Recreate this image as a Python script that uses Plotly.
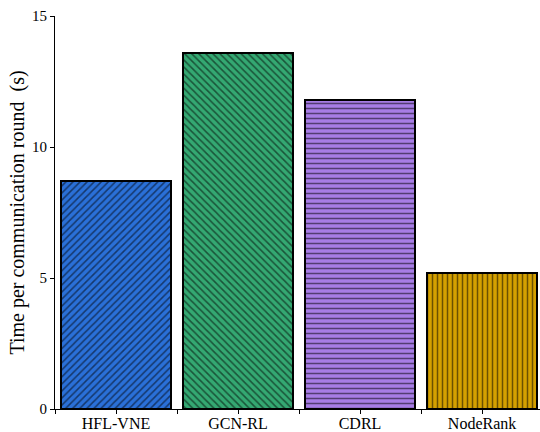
import plotly.graph_objects as go

categories = ["HFL-VNE", "GCN-RL", "CDRL", "NodeRank"]
values = [8.7, 13.6, 11.8, 5.2]
colors = ["#2a70d8", "#34a872", "#a77de6", "#d4a000"]
patterns = ["/", "\\", "-", "|"]
ytick_vals = [0, 5, 10, 15]

xpos = list(range(len(categories)))

fig = go.Figure()
for i, (c, v) in enumerate(zip(categories, values)):
    fig.add_trace(go.Bar(
        x=[xpos[i]], y=[v], width=0.9,
        marker=dict(color=colors[i], line=dict(color="black", width=2),
                    pattern=dict(shape=patterns[i], fgcolor="black", bgcolor=colors[i],
                                 size=5, solidity=0.3)),
        showlegend=False,
    ))

tickvals = []
ticktext = []
for i, c in enumerate(categories):
    tickvals += [i - 0.5, i]
    ticktext += ["", c]
tickvals.append(len(categories) - 0.5)
ticktext.append("")

fig.update_layout(
    width=540, height=432,
    margin=dict(l=55, r=0, t=16, b=23, autoexpand=False),
    plot_bgcolor="white", paper_bgcolor="white",
    font=dict(family="Liberation Serif, Times New Roman, serif", color="black"),
    bargap=0,
    xaxis=dict(range=[-0.5, 3.475], tickvals=tickvals, ticktext=ticktext,
               showline=True, linecolor="black", linewidth=1, ticks="outside",
               ticklen=4, tickcolor="black", showgrid=False, zeroline=False,
               tickfont=dict(size=16), automargin=False, ticklabelstandoff=-4),
    yaxis=dict(range=[0, 15], tickvals=ytick_vals, showline=True, linecolor="black",
               linewidth=1, ticks="outside", ticklen=4, tickcolor="black",
               showgrid=False, zeroline=False, tickfont=dict(size=15), automargin=False,
               title=dict(text="Time per communication round\u00a0 (s)", font=dict(size=20), standoff=2)),
)

fig.write_html("out.html", config={"displayModeBar": False},
               post_script="document.body.style.margin='0';document.body.style.overflow='hidden';")
